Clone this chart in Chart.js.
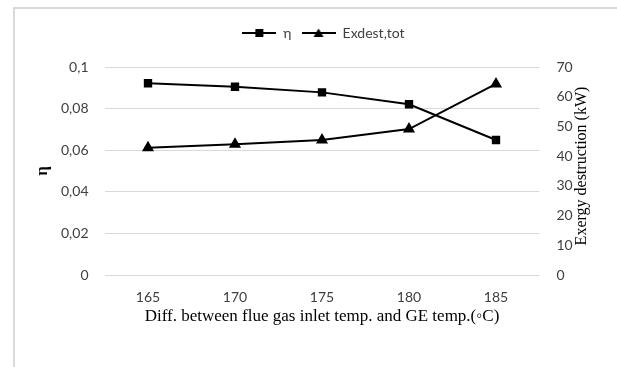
<!DOCTYPE html>
<html>
<head>
<meta charset="utf-8">
<script src="https://cdn.jsdelivr.net/npm/chart.js@4.4.1/dist/chart.umd.min.js"></script>
<style>
  html, body { margin: 0; padding: 0; background: #fff; }
  #wrap { width: 617px; height: 367px; position: relative; }
</style>
</head>
<body>
<div id="wrap"><canvas id="c" width="617" height="367"></canvas></div>
<script>
const categories = ['165', '170', '175', '180', '185'];
const etaValues = [0.0922, 0.0905, 0.0878, 0.0821, 0.0649];
const exdestValues = [42.8, 44.0, 45.4, 49.1, 64.3];
const leftTickLabels = ['0', '0,02', '0,04', '0,06', '0,08', '0,1'];
const rightTickLabels = ['0', '10', '20', '30', '40', '50', '60', '70'];
const seriesNames = ['η', 'Exdest,tot'];
const xTitle = 'Diff. between flue gas inlet temp. and GE temp.(◦C)';
const leftTitle = 'η';
const rightTitle = 'Exergy destruction (kW)';

function legendIcon(kind) {
  const cv = document.createElement('canvas');
  cv.width = 34; cv.height = 12;
  const g = cv.getContext('2d');
  g.strokeStyle = '#000'; g.lineWidth = 2;
  g.beginPath(); g.moveTo(0, 6); g.lineTo(34, 6); g.stroke();
  g.fillStyle = '#000';
  if (kind === 'rect') {
    g.fillRect(13, 2, 8, 8);
  } else {
    g.beginPath(); g.moveTo(17, 1.5); g.lineTo(22, 10); g.lineTo(12, 10); g.closePath(); g.fill();
  }
  return cv;
}
const icons = [legendIcon('rect'), legendIcon('triangle')];

const framePlugin = {
  id: 'frame',
  beforeInit(chart) {
    const lg = chart.legend;
    if (lg) {
      const orig = lg.fit.bind(lg);
      lg.fit = function () { orig(); this.height += 17; };
    }
  },
  beforeDraw(chart) {
    const ctx = chart.ctx;
    ctx.save();
    ctx.fillStyle = '#fff';
    ctx.fillRect(0, 0, chart.width, chart.height);
    ctx.strokeStyle = '#d9d9d9';
    ctx.lineWidth = 2;
    ctx.beginPath();
    ctx.moveTo(14, 367); ctx.lineTo(14, 8); ctx.lineTo(617, 8);
    ctx.stroke();
    ctx.restore();
  },
  afterDraw(chart) {
    const ctx = chart.ctx;
    const ca = chart.chartArea;
    ctx.save();
    ctx.fillStyle = '#000';
    ctx.font = '16px "Liberation Serif"';
    ctx.textAlign = 'center';
    ctx.textBaseline = 'middle';
    ctx.translate(582, 166);
    ctx.rotate(-Math.PI / 2);
    ctx.fillText(rightTitle, 0, 0);
    ctx.restore();
  }
};

new Chart(document.getElementById('c'), {
  type: 'line',
  data: {
    labels: categories,
    datasets: [
      {
        label: seriesNames[0], data: etaValues, yAxisID: 'y',
        borderColor: '#000', backgroundColor: '#000', borderWidth: 2,
        pointStyle: 'rect', pointRadius: 4.5, pointHoverRadius: 4.5,
        tension: 0, fill: false
      },
      {
        label: seriesNames[1], data: exdestValues, yAxisID: 'y1',
        borderColor: '#000', backgroundColor: '#000', borderWidth: 2,
        pointStyle: 'triangle', pointRadius: 5, pointHoverRadius: 5,
        tension: 0, fill: false
      }
    ]
  },
  options: {
    responsive: false,
    animation: false,
    layout: { padding: { top: 16, left: 30, right: 0, bottom: 40 } },
    plugins: {
      tooltip: { enabled: false },
      legend: {
        position: 'top',
        labels: {
          usePointStyle: true,
          pointStyleWidth: 34,
          color: '#404040',
          font: { family: 'Lato', size: 14 },
          padding: 10,
          generateLabels(chart) {
            return chart.data.datasets.map((ds, i) => ({
              text: ds.label, pointStyle: icons[i], datasetIndex: i,
              fillStyle: '#000', strokeStyle: '#000', lineWidth: 0, hidden: false,
              fontColor: '#404040'
            }));
          }
        }
      }
    },
    scales: {
      x: {
        offset: true,
        grid: { display: false, drawTicks: false, offset: true },
        border: { display: false },
        ticks: { color: '#404040', font: { family: 'Lato', size: 14 }, padding: 14 },
        title: { display: true, text: xTitle, color: '#000', font: { family: 'Liberation Serif', size: 17 }, padding: { top: 0, bottom: 0 } },
        afterFit(s) { s.height = 52; }
      },
      y: {
        position: 'left',
        min: 0, max: 0.1,
        ticks: {
          stepSize: 0.02, color: '#404040', font: { family: 'Lato', size: 14 }, padding: 16,
          callback: (v, i) => leftTickLabels[i]
        },
        grid: { color: '#d9d9d9', lineWidth: 1, drawTicks: false },
        border: { display: false },
        title: { display: true, text: leftTitle, color: '#000', font: { family: 'Liberation Serif', size: 17, weight: 'bold' }, padding: { top: 2, bottom: 0 } },
        afterFit(s) { s.width = 74.5; }
      },
      y1: {
        position: 'right',
        min: 0, max: 70,
        ticks: {
          stepSize: 10, color: '#404040', font: { family: 'Lato', size: 14 }, padding: 17,
          callback: (v, i) => rightTickLabels[i]
        },
        grid: { display: false, drawTicks: false },
        border: { display: false },
        afterFit(s) { s.width = 77.5; }
      }
    }
  },
  plugins: [framePlugin]
});
</script>
</body>
</html>
